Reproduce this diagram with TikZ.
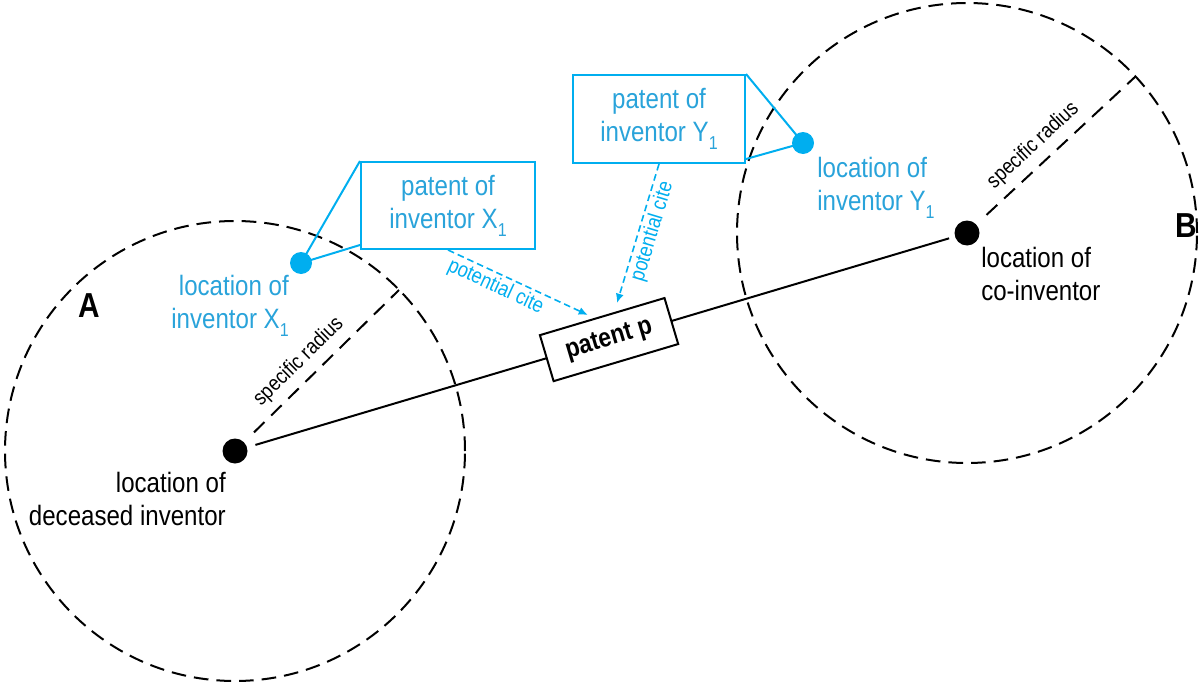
\documentclass[tikz,border=0pt]{standalone}
\usepackage{fontspec}
\setmainfont[FakeStretch=0.86]{Liberation Sans}
\usetikzlibrary{calc,arrows.meta}
\definecolor{cyanline}{RGB}{0,174,239}
\definecolor{cyantext}{RGB}{41,163,218}
\newcommand\subone{\raisebox{-6pt}{\fontsize{14pt}{14pt}\selectfont 1}}
\begin{document}
\begin{tikzpicture}[x=0.75pt,y=-0.75pt,
  circdash/.style={line width=1.5pt, dash pattern=on 11pt off 6pt},
  raddash/.style={line width=1.5pt, dash pattern=on 11pt off 7pt},
  blackdot/.style={circle, fill=black, minimum size=18.75pt, inner sep=0pt},
  bluedot/.style={circle, fill=cyanline, minimum size=16.5pt, inner sep=0pt},
  lbl/.style={font=\fontsize{21pt}{24.75pt}\selectfont, inner sep=0pt},
  bluebox/.style={draw=cyanline, line width=1.5pt, fill=white, text=cyantext, align=center,
    font=\fontsize{21pt}{24.75pt}\selectfont, inner sep=0pt},
  pbox/.style={draw, fill=white, line width=1.5pt, font=\bfseries\fontsize{20pt}{24pt}\selectfont,
    minimum width=97.5pt, minimum height=36pt, inner sep=0pt},
  smalllbl/.style={font=\fontsize{16pt}{19pt}\selectfont, inner sep=0pt},
  citearrow/.style={draw=cyanline, line width=1.2pt, dash pattern=on 5pt off 3pt,
    -{Latex[length=7pt,width=6pt]}},
  callout/.style={draw=cyanline, line width=1.5pt},
  bigletter/.style={font=\bfseries\fontsize{26pt}{30pt}\selectfont, inner sep=0pt}
]
\useasboundingbox (0,0) rectangle (1199,685);

% centres and circles
\coordinate (cA) at (235,451);
\coordinate (cB) at (967,233);
\draw[circdash] (cA) circle[radius=172.5pt];
\draw[circdash] (cB) circle[radius=172.5pt];

% radius lines
\coordinate (rA) at (399,290);
\coordinate (rB) at (1135.5,76.5);
\draw[raddash, shorten <=20pt] (cA) -- node[smalllbl, sloped, above=6pt, pos=0.47] (sA) {specific radius} (rA);
\draw[raddash, shorten <=20pt] (cB) -- node[smalllbl, sloped, above=6pt, pos=0.47] (sB) {specific radius} (rB);

% main line with patent p
\draw[line width=1.5pt, shorten <=16pt, shorten >=14pt] (cA) -- node[pbox, sloped, pos=0.511] (pp) {patent p} (cB);

% black dots
\node[blackdot] (dA) at (cA) {};
\node[blackdot] (dB) at (cB) {};

% blue boxes
\node[bluebox, minimum width=130.5pt, minimum height=65.25pt] (bX) at (448,205.5) {patent of\\inventor X\subone};
\node[bluebox, minimum width=129pt, minimum height=66pt] (bY) at (659,119) {patent of\\inventor Y\subone};

% blue dots and callouts
\node[bluedot] (pX) at (301,263) {};
\node[bluedot] (pY) at (803,143) {};
\draw[callout] (bX.north west) -- (pX.center) -- ($(bX.south west)+(0,-5)$);
\draw[callout] (bY.north east) -- (pY.center) -- ($(bY.south east)+(0,-5)$);

% potential cite arrows
\coordinate (tX) at (588,315);
\coordinate (tY) at (617,303);
\draw[citearrow] (bX.south) -- node[smalllbl, text=cyanline, sloped, below=2pt, pos=0.38] (cX) {potential cite} (tX);
\draw[citearrow] (bY.south) -- node[smalllbl, text=cyanline, sloped, below=2pt, pos=0.46] (cY) {potential cite} (tY);

% labels
\node[lbl, text=cyantext, align=right, anchor=north east] (lX) at (289,275) {location of\\inventor X\subone};
\node[lbl, text=cyantext, align=left, anchor=north west] (lY) at (817,157) {location of\\inventor Y\subone};
\node[lbl, align=right, anchor=north east] (lA) at (226,472) {location of\\deceased inventor};
\node[lbl, align=left, anchor=north west] (lB) at (981,247) {location of\\co-inventor};

\node[bigletter] (A) at (89,306) {A};
\node[bigletter] (B) at (1186,226) {B};
\end{tikzpicture}
\end{document}
